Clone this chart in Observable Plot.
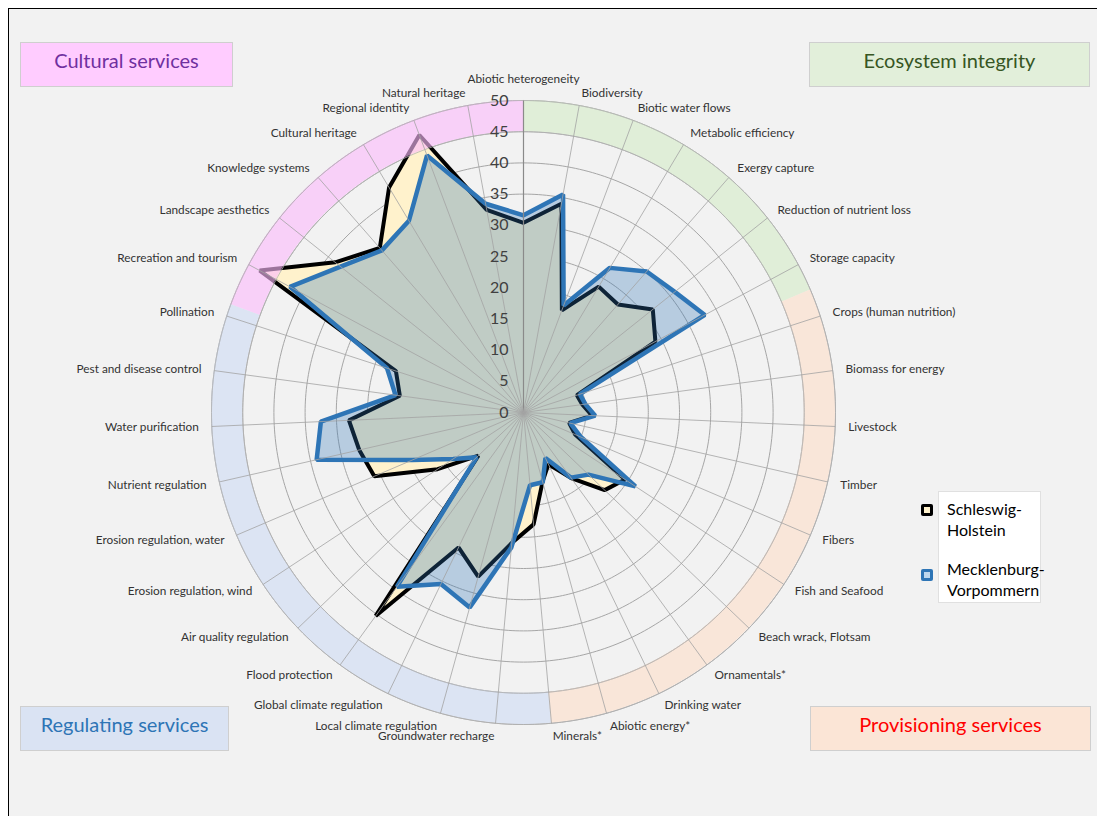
<!DOCTYPE html>
<html><head><meta charset="utf-8">
<script src="https://cdn.jsdelivr.net/npm/d3@7"></script>
<script src="https://cdn.jsdelivr.net/npm/@observablehq/plot@0.6"></script>
<style>
body{margin:0;background:#fff;}
#wrap{position:relative;width:1097px;height:816px;overflow:hidden;font-family:Lato,"Open Sans",sans-serif;}
#frame{position:absolute;left:8px;top:8px;width:1089px;height:808px;background:#f2f2f2;border-left:1.5px solid #000;border-top:1.5px solid #000;box-sizing:border-box}
#chart{position:absolute;left:0;top:0}
.box{position:absolute;display:flex;align-items:center;justify-content:center;font-size:20px;box-sizing:border-box;border:1px solid #cfcfcf;padding-bottom:9px}
#legend{position:absolute;left:938px;top:491px;width:103px;height:112px;background:#fff;border:1px solid #e0e0e0;box-sizing:border-box}
.lt{position:absolute;left:947px;font-size:16px;line-height:21px;color:#000}
.mk{position:absolute;width:12px;height:12px;border-radius:2px;box-sizing:border-box}
.mk i{position:absolute;left:3px;top:3px;width:6px;height:6px}
</style></head>
<body>
<div id="wrap">
  <div id="frame"></div>
  <div class="box" style="left:20px;top:42px;width:213px;height:45px;background:#ffccff;color:#7030a0">Cultural services</div>
  <div class="box" style="left:809px;top:42px;width:281px;height:45px;background:#e2efda;color:#375623">Ecosystem integrity</div>
  <div class="box" style="left:20px;top:706px;width:209px;height:45px;background:#dae3f3;color:#2e75b6">Regulating services</div>
  <div class="box" style="left:810px;top:706px;width:281px;height:45px;background:#fbe5d6;color:#ff0000">Provisioning services</div>
  <div id="chart"></div>
  <div id="legend"></div>
  <div class="mk" style="left:921px;top:504px;background:#000"><i style="background:#fff2cc"></i></div>
  <div class="lt" style="top:498px">Schleswig-<br>Holstein</div>
  <div class="mk" style="left:921px;top:569px;background:#2e75b6"><i style="background:#bdd7ee"></i></div>
  <div class="lt" style="top:558px">Mecklenburg-<br>Vorpommern</div>
</div>
<script>
const categories = ["Abiotic heterogeneity","Biodiversity","Biotic water flows","Metabolic efficiency","Exergy capture","Reduction of nutrient loss","Storage capacity","Crops (human nutrition)","Biomass for energy","Livestock","Timber","Fibers","Fish and Seafood","Beach wrack, Flotsam","Ornamentals*","Drinking water","Abiotic energy*","Minerals*","Groundwater recharge","Local climate regulation","Global climate regulation","Flood protection","Air quality regulation","Erosion regulation, wind","Erosion regulation, water","Nutrient regulation","Water purification","Pest and disease control","Pollination","Recreation and tourism","Landscape aesthetics","Knowledge systems","Cultural heritage","Regional identity","Natural heritage"];
const schleswigHolstein = [30.4,34,17.5,23.5,23,26.5,24,9,9.5,11,7.5,9,19.5,18,13,9.2,11.5,18,21,27.3,24,40.3,10,16.5,26,27,28,20,21.5,48,38.6,35,42,47.5,33];
const mecklenburgVorpommern = [31.6,35.5,18.3,27,30,31,33,9.5,10,11.5,7.7,10,21.5,14.4,12.9,8.1,11.6,11.7,21.7,32.4,30.5,34.5,10.4,13.5,19.4,34,32.5,20.7,23,42.5,37.5,34.5,35.8,44,34];
const groups = ["Ecosystem integrity","Provisioning services","Regulating services","Cultural services"];
const groupFrom = [0, 6.5, 17, 28.22];
const groupTo = [6.5, 17, 28.22, 35];
const ticks = [0,5,10,15,20,25,30,35,40,45,50];

const groupColors = ["#d5ecc8","#fddfca","#cfdcf3","#fcbcfc"];
const N = categories.length;
const K = 6.24, CX = 523, CY = 412, W = 1097, H = 816;
const ang = i => i * 2 * Math.PI / N;
const px = (r, a) => r * Math.sin(a);
const py = (r, a) => r * Math.cos(a);

const rows = categories.map((c, i) => ({cat: c, i, a: ang(i), sh: schleswigHolstein[i], mv: mecklenburgVorpommern[i]}));
const ringPts = ticks.filter(t => t > 0).flatMap(t => d3.range(0, 361, 1).map(d => ({t, a: d * Math.PI / 180})));
const bandPts = groups.flatMap((g, k) => d3.range(0, 61).map(j => ({g, a: ang(groupFrom[k] + (groupTo[k] - groupFrom[k]) * j / 60)})));
const L = 325 / K;
const isTop = d => d.i === 0;
const isRight = d => d.i > 0 && d.a < Math.PI;
const isLeft = d => d.a > Math.PI;

const chart = Plot.plot({
  width: W, height: H, margin: 0,
  x: {domain: [-CX / K, (W - CX) / K], range: [0, W], axis: null},
  y: {domain: [-(H - CY) / K, CY / K], range: [H, 0], axis: null},
  color: {domain: groups, range: groupColors},
  style: {background: "transparent", fontFamily: "Lato, sans-serif", overflow: "visible"},
  marks: [
    Plot.line(ringPts, {x: d => px(d.t, d.a), y: d => py(d.t, d.a), z: "t", stroke: "#a6a6a6", strokeWidth: 1}),
    Plot.line(rows, {x: d => px(d.sh, d.a), y: d => py(d.sh, d.a), curve: "linear-closed", fill: "#fff2cc", stroke: "#000", strokeWidth: 4, strokeLinejoin: "miter"}),
    Plot.line(rows, {x: d => px(d.mv, d.a), y: d => py(d.mv, d.a), curve: "linear-closed", fill: "#2e75b6", fillOpacity: 0.3, stroke: "#2e75b6", strokeWidth: 4.5, strokeLinejoin: "miter"}),
    Plot.area(bandPts, {x1: d => px(45, d.a), y1: d => py(45, d.a), x2: d => px(50, d.a), y2: d => py(50, d.a), z: "g", fill: "g", fillOpacity: 0.62}),
    Plot.line(ringPts.filter(d => d.t >= 45), {x: d => px(d.t, d.a), y: d => py(d.t, d.a), z: "t", stroke: "#b4b4b4", strokeWidth: 0.8}),
    Plot.link(rows, {x1: 0, y1: 0, x2: d => px(50, d.a), y2: d => py(50, d.a), stroke: d => d.i === 0 ? "#8a8a8a" : "#a3a3a3", strokeWidth: d => d.i === 0 ? 1.2 : 0.8}),
    Plot.text(ticks, {x: 0, y: d => d, text: d => String(d), dx: -15, textAnchor: "end", fontSize: 16, fill: "#404040"}),
    Plot.text(rows.filter(isTop), {x: d => px(L, d.a), y: d => py(L, d.a), text: "cat", lineAnchor: "bottom", textAnchor: "middle", dy: -5, fontSize: 11.8, fill: "#333"}),
    Plot.text(rows.filter(isRight), {x: d => px(L, d.a), y: d => py(L, d.a), text: "cat", textAnchor: "start", fontSize: 11.8, fill: "#333"}),
    Plot.text(rows.filter(isLeft), {x: d => px(L, d.a), y: d => py(L, d.a), text: "cat", textAnchor: "end", fontSize: 11.8, fill: "#333"})
  ]
});
document.getElementById("chart").appendChild(chart);
</script>
</body></html>
